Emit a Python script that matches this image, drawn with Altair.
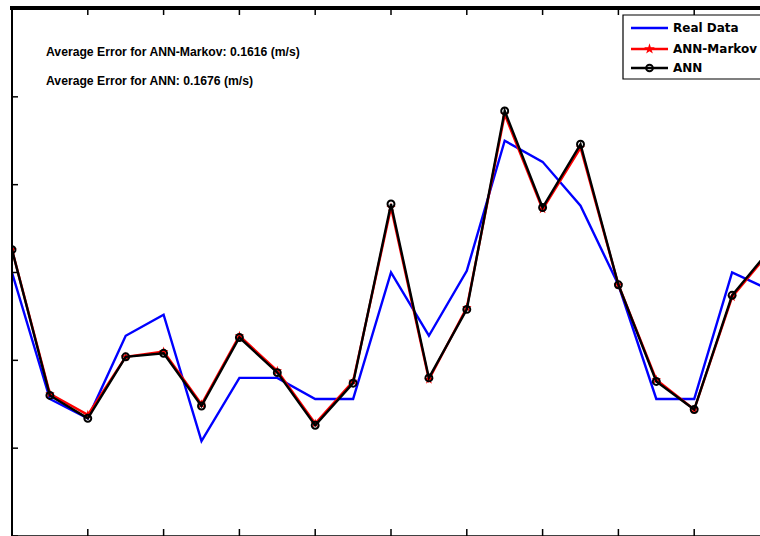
import altair as alt
import pandas as pd

# Wind speed series (m/s) over consecutive time steps
steps = list(range(21))
real_data = [6.50, 5.78, 5.67, 6.14, 6.26, 5.54, 5.90, 5.90, 5.78, 5.78,
             6.50, 6.14, 6.51, 7.25, 7.13, 6.88, 6.43, 5.78, 5.78, 6.50, 6.40]
ann_markov = [6.63, 5.81, 5.69, 6.02, 6.05, 5.75, 6.14, 5.94, 5.64, 5.88,
              6.87, 5.89, 6.30, 7.40, 6.86, 7.21, 6.43, 5.89, 5.72, 6.36, 6.62]
ann = [6.63, 5.80, 5.67, 6.02, 6.04, 5.74, 6.13, 5.93, 5.63, 5.87,
       6.89, 5.90, 6.29, 7.42, 6.87, 7.23, 6.43, 5.88, 5.72, 6.37, 6.63]

series_names = ["Real Data", "ANN-Markov", "ANN"]
series_colors = ["#0000ff", "#ff0000", "#000000"]
x_ticks = [0, 2, 4, 6, 8, 10, 12, 14, 16, 18, 20]
y_ticks = [5.0, 5.5, 6.0, 6.5, 7.0, 7.5, 8.0]
notes = ["Average Error for ANN-Markov: 0.1616 (m/s)",
         "Average Error for ANN: 0.1676 (m/s)"]

W, H = 748, 527
STEP_PX = 37.9

# five-pointed star marker drawn in the unit box
STAR = ("M0,-1L0.2245,-0.309L0.951,-0.309L0.3633,0.118L0.588,0.809L0,0.382"
        "L-0.588,0.809L-0.3633,0.118L-0.951,-0.309L-0.2245,-0.309Z")

df_real = pd.DataFrame({"step": steps, "speed": real_data})
df_mk = pd.DataFrame({"step": steps, "speed": ann_markov})
df_ann = pd.DataFrame({"step": steps, "speed": ann})

xs = alt.Scale(domain=[0, W / STEP_PX], nice=False, zero=False)
ys = alt.Scale(domain=[5, 8], nice=False, zero=False)


def xy(src):
    return alt.Chart(src).encode(
        x=alt.X("step:Q", scale=xs, axis=None),
        y=alt.Y("speed:Q", scale=ys, axis=None),
    )


blue_line = xy(df_real).mark_line(color="#0000ff", strokeWidth=2.4, clip=True)
red_line = xy(df_mk).mark_line(color="#ff0000", strokeWidth=2.4, clip=True)
red_pts = xy(df_mk).mark_point(shape=STAR, filled=True, color="#ff0000",
                                size=100, opacity=1, clip=True)
black_line = xy(df_ann).mark_line(color="#000000", strokeWidth=2.4, clip=True)
black_pts = xy(df_ann).mark_point(shape="circle", filled=False, color="#000000",
                                   size=48, strokeWidth=2, opacity=1, clip=True)

# Box frame: left and bottom edges, thick top edge, inward ticks
tx = pd.DataFrame({"t": x_ticks})
ty = pd.DataFrame({"v": y_ticks})
one_row = pd.DataFrame({"n": [1]})
left_edge = alt.Chart(one_row).mark_rule(color="black", strokeWidth=2).encode(
    x=alt.value(0), y=alt.value(0), y2=alt.value(H))
bottom_edge = alt.Chart(one_row).mark_rule(color="black", strokeWidth=1.5).encode(
    x=alt.value(0), x2=alt.value(W), y=alt.value(H))
top_edge = alt.Chart(one_row).mark_rule(color="black", strokeWidth=4).encode(
    x=alt.value(-2), x2=alt.value(W), y=alt.value(-1))
top_ticks = alt.Chart(tx).mark_rule(color="black", strokeWidth=1.5, clip=True).encode(
    x=alt.X("t:Q", scale=xs, axis=None), y=alt.value(0), y2=alt.value(6))
bottom_ticks = alt.Chart(tx).mark_rule(color="black", strokeWidth=1.5, clip=True).encode(
    x=alt.X("t:Q", scale=xs, axis=None), y=alt.value(H - 7), y2=alt.value(H))
left_ticks = alt.Chart(ty).mark_rule(color="black", strokeWidth=1.5).encode(
    y=alt.Y("v:Q", scale=ys, axis=None), x=alt.value(0), x2=alt.value(6))

# Error annotations
note_layers = []
for i, t in enumerate(notes):
    note_layers.append(
        alt.Chart(pd.DataFrame({"t": [t]})).mark_text(
            align="left", baseline="middle", font="Liberation Sans",
            fontWeight="bold", fontSize=12.2, color="black"
        ).encode(x=alt.value(34), y=alt.value(43 + 29 * i), text="t:N")
    )

# Legend box
legend_box = alt.Chart(one_row).mark_rect(fill="white", stroke="black", strokeWidth=1.2).encode(
    x=alt.value(611), x2=alt.value(W + 20), y=alt.value(6), y2=alt.value(70))
legend_layers = [legend_box]
row_y = [19, 40, 59]
for name, col, ry in zip(series_names, series_colors, row_y):
    one = pd.DataFrame({"name": [name]})
    legend_layers.append(alt.Chart(one).mark_rule(color=col, strokeWidth=2.4).encode(
        x=alt.value(619), x2=alt.value(656), y=alt.value(ry)))
    legend_layers.append(alt.Chart(one).mark_text(
        align="left", baseline="middle", font="DejaVu Sans", fontWeight="bold",
        fontSize=12, color="black").encode(x=alt.value(661), y=alt.value(ry), text="name:N"))
legend_layers.append(alt.Chart(one_row).mark_point(
    shape=STAR, filled=True, color="#ff0000", size=130, opacity=1).encode(
    x=alt.value(637.5), y=alt.value(row_y[1])))
legend_layers.append(alt.Chart(one_row).mark_point(
    shape="circle", filled=False, color="#000000", size=45, strokeWidth=2, opacity=1).encode(
    x=alt.value(637.5), y=alt.value(row_y[2])))

chart = alt.layer(
    blue_line, red_line, red_pts, black_line, black_pts,
    left_edge, bottom_edge, top_edge, top_ticks, bottom_ticks, left_ticks,
    *note_layers, *legend_layers
).properties(
    width=W, height=H,
    autosize=alt.AutoSizeParams(type="none"),
    padding={"left": 12, "top": 9, "right": 0, "bottom": 0},
    background="white",
).configure_view(stroke=None)

chart.save("out.html", embed_options={"renderer": "svg", "actions": False})
